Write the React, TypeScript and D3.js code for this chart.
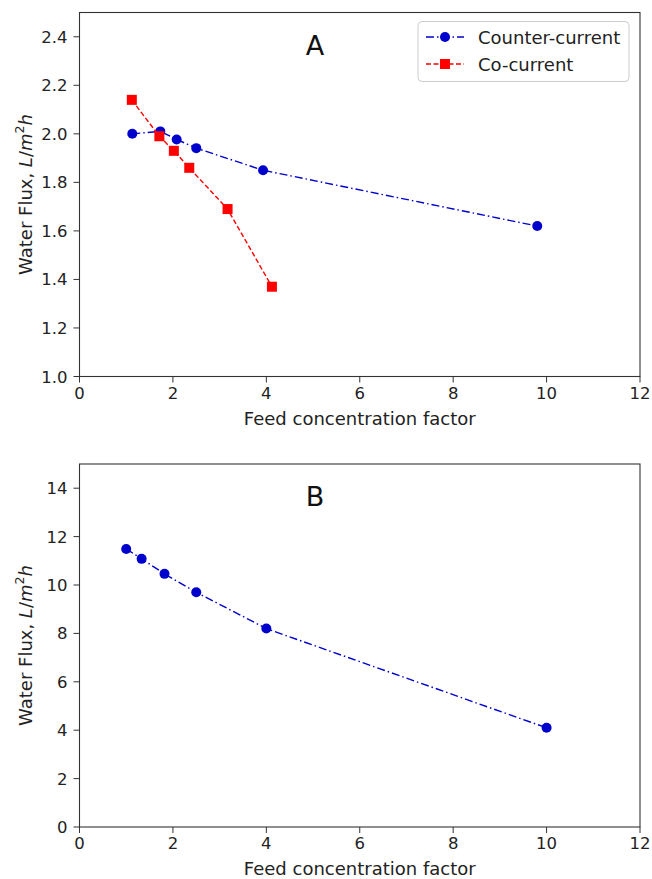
import React from "react";
import * as d3 from "d3";

const counterX_A = [1.13, 1.73, 2.08, 2.5, 3.93, 9.8];
const counterY_A = [2.0, 2.01, 1.977, 1.941, 1.85, 1.62];
const coX_A = [1.12, 1.71, 2.02, 2.35, 3.17, 4.12];
const coY_A = [2.14, 1.99, 1.93, 1.86, 1.69, 1.37];
const counterX_B = [1.0, 1.33, 1.82, 2.5, 4.0, 10.0];
const counterY_B = [11.49, 11.08, 10.46, 9.7, 8.2, 4.1];

const xTicks = [0, 2, 4, 6, 8, 10, 12];
const yTicksA = [1.0, 1.2, 1.4, 1.6, 1.8, 2.0, 2.2, 2.4];
const yTicksB = [0, 2, 4, 6, 8, 10, 12, 14];

const BLUE = "#0000CD";
const RED = "#FF0000";
const AX = "#333";
const FONT = "DejaVu Sans, sans-serif";

type Series = { xs: number[]; ys: number[]; color: string; dash: string; marker: "circle" | "square" };

function Panel(props: {
  top: number; bottom: number; yDomain: [number, number]; yTicks: number[];
  yFmt: (v: number) => string; series: Series[]; letter: string; legend: boolean;
}) {
  const left = 79.5, right = 640;
  const x = d3.scaleLinear().domain([0, 12]).range([left, right]);
  const y = d3.scaleLinear().domain(props.yDomain).range([props.bottom, props.top]);
  const line = d3.line<[number, number]>().x(d => x(d[0])).y(d => y(d[1]));
  const midY = (props.top + props.bottom) / 2;
  return (
    <g>
      {props.series.map((s, i) => {
        const pts = s.xs.map((v, j) => [v, s.ys[j]] as [number, number]);
        return (
          <g key={i}>
            <path d={line(pts) || ""} fill="none" stroke={s.color} strokeWidth={1.4} strokeDasharray={s.dash} />
            {pts.map((p, j) =>
              s.marker === "circle" ? (
                <circle key={j} cx={x(p[0])} cy={y(p[1])} r={5} fill={s.color} />
              ) : (
                <rect key={j} x={x(p[0]) - 5} y={y(p[1]) - 5} width={10} height={10} fill={s.color} />
              )
            )}
          </g>
        );
      })}
      <rect x={left} y={props.top} width={right - left} height={props.bottom - props.top} fill="none" stroke={AX} strokeWidth={1.1} />
      {xTicks.map(t => (
        <g key={t}>
          <line x1={x(t)} x2={x(t)} y1={props.bottom} y2={props.bottom + 6} stroke={AX} strokeWidth={1} />
          <text x={x(t)} y={props.bottom + 22} textAnchor="middle" fontSize={16.5} fontFamily={FONT} fill="#222">{t}</text>
        </g>
      ))}
      {props.yTicks.map(t => (
        <g key={t}>
          <line x1={left - 6} x2={left} y1={y(t)} y2={y(t)} stroke={AX} strokeWidth={1} />
          <text x={left - 12} y={y(t) + 6} textAnchor="end" fontSize={16.5} fontFamily={FONT} fill="#222">{props.yFmt(t)}</text>
        </g>
      ))}
      <text x={(left + right) / 2} y={props.bottom + 48} textAnchor="middle" fontSize={18} fontFamily={FONT} fill="#222">Feed concentration factor</text>
      <text transform={`translate(32,${midY}) rotate(-90)`} textAnchor="middle" fontSize={18} fontFamily={FONT} fill="#222">
        Water Flux, <tspan fontStyle="italic">L</tspan>/<tspan fontStyle="italic">m</tspan><tspan fontSize={12.5} dy={-8}>2</tspan><tspan fontStyle="italic" dy={8}>h</tspan>
      </text>
      <text x={315} y={props.top + 42} textAnchor="middle" fontSize={27} fontFamily={FONT} fill="#111">{props.letter}</text>
      {props.legend && (
        <g>
          <rect x={418} y={21.5} width={211} height={60} rx={4} fill="white" stroke="#ccc" strokeWidth={1} />
          {props.series.map((s, i) => {
            const ly = 37 + i * 27;
            return (
              <g key={i}>
                <line x1={426} x2={464} y1={ly} y2={ly} stroke={s.color} strokeWidth={1.4} strokeDasharray={s.dash} />
                {s.marker === "circle" ? (
                  <circle cx={445} cy={ly} r={5} fill={s.color} />
                ) : (
                  <rect x={440} y={ly - 5} width={10} height={10} fill={s.color} />
                )}
                <text x={478} y={ly + 6.5} fontSize={18} fontFamily={FONT} fill="#222">{i === 0 ? "Counter-current" : "Co-current"}</text>
              </g>
            );
          })}
        </g>
      )}
    </g>
  );
}

export default function App() {
  const dashDot = "8,3,1.5,3";
  const dashed = "5,2.5";
  return (
    <svg width={652} height={879} style={{ position: "absolute", left: 0, top: 0, background: "white" }}>
      <rect width={652} height={879} fill="white" />
      <Panel top={12.5} bottom={376.5} yDomain={[1.0, 2.5]} yTicks={yTicksA} yFmt={v => v.toFixed(1)}
        letter="A" legend={true}
        series={[
          { xs: counterX_A, ys: counterY_A, color: BLUE, dash: dashDot, marker: "circle" },
          { xs: coX_A, ys: coY_A, color: RED, dash: dashed, marker: "square" },
        ]} />
      <Panel top={464} bottom={827} yDomain={[0, 15]} yTicks={yTicksB} yFmt={v => String(v)}
        letter="B" legend={false}
        series={[{ xs: counterX_B, ys: counterY_B, color: BLUE, dash: dashDot, marker: "circle" }]} />
    </svg>
  );
}
